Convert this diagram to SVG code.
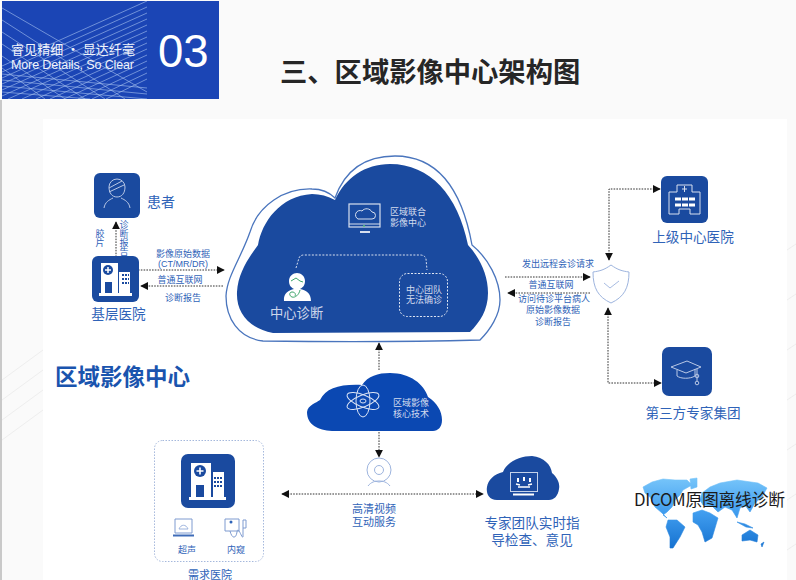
<svg xmlns="http://www.w3.org/2000/svg" width="796" height="580" viewBox="0 0 796 580">
<style>
text{font-family:"Liberation Sans","Noto Sans CJK SC",sans-serif}
.cjk{font-family:"Noto Sans CJK SC",sans-serif}
.lb{fill:#2f63b8;font-size:9px;text-anchor:middle}
.big{fill:#2f63b8;font-size:13.6px;text-anchor:middle}
.med{fill:#2f63b8;font-size:11px;text-anchor:middle}
.inv{fill:#d3dcee;font-size:9px}
.tile{fill:#1a4a9f}
.ic{fill:none;stroke:#b9c8e6;stroke-width:1}
.w{fill:#fff}
.conn{fill:none;stroke:#333;stroke-width:1;stroke-dasharray:1.6 1.2}
.wd{fill:none;stroke:#dfe6f3;stroke-width:1;stroke-dasharray:2 1.5}
.hl{stroke:#a9c3f0;stroke-width:1;opacity:.6;fill:none}
</style>
<defs>
<marker id="ah" viewBox="0 0 10 10" refX="9" refY="5" markerWidth="8" markerHeight="8" markerUnits="userSpaceOnUse" orient="auto-start-reverse"><path d="M0 0L10 5L0 10Z" fill="#111"/></marker>
<linearGradient id="map" gradientUnits="userSpaceOnUse" x1="0" y1="477" x2="0" y2="550"><stop offset="0" stop-color="#78c6fa"/><stop offset=".5" stop-color="#3f9cee"/><stop offset="1" stop-color="#1470cf"/></linearGradient>
<clipPath id="hc"><rect x="2" y="1" width="145" height="98"/></clipPath>
</defs>
<rect width="796" height="580" fill="#fafafa"/>
<rect x="0" y="100" width="2" height="480" fill="#c9c9c9"/>
<g stroke="#eeeeee" stroke-width="1" fill="none"><path d="M787 250L796 244M787 300L796 294M787 350L796 344M787 400L796 394M787 450L796 444M787 500L796 494M787 550L796 544M2 380L43 350M2 400L43 370M2 420L43 390M2 440L43 410"/></g>
<rect x="43" y="119" width="744" height="461" fill="#fff"/>

<g id="header">
<rect x="2" y="1" width="217" height="98" fill="#1b45b5"/>
<g clip-path="url(#hc)">
<path class="hl" d="M2 66L147 1M2 72L147 7M2 78L147 13M2 84L147 19M2 90L147 25M2 96L147 31M8 99L147 37M22 99L147 43M36 99L147 49M50 99L147 55M64 99L147 61M78 99L147 67M92 99L147 73M106 99L147 79"/>
<path class="hl" d="M2 8L147 92M2 20L125 99M2 32L105 99M2 44L85 99M2 56L65 99M2 68L45 99M2 74L147 88M2 80L147 94M2 86L147 99M2 92L90 99"/>
</g>
<text x="11" y="54" fill="#f1f4fb" font-size="13" class="cjk" textLength="124">睿见精细 · 显达纤毫</text>
<text x="11" y="69" fill="#f1f4fb" font-size="12.5" textLength="123">More Details, So Clear</text>
<text x="158" y="67" fill="#fff" font-size="45.500">03</text>
</g>
<text id="title" x="280" y="82" class="cjk" font-size="27.3" font-weight="700" fill="#262626">三、区域影像中心架构图</text>
<text id="region" x="55" y="385" class="cjk" font-size="22.5" font-weight="700" fill="#1a54ae">区域影像中心</text>

<g id="connectors">
<path class="conn" d="M116 257V222" marker-end="url(#ah)"/>
<path class="conn" d="M138 270H224" marker-end="url(#ah)"/>
<path class="conn" d="M223 286H141" marker-end="url(#ah)"/>
<path class="conn" d="M505 277H590" marker-end="url(#ah)"/>
<path class="conn" d="M590 293H508" marker-end="url(#ah)"/>
<path class="conn" d="M609 260V189H660" marker-start="url(#ah)" marker-end="url(#ah)"/>
<path class="conn" d="M608 308V383H661" marker-start="url(#ah)" marker-end="url(#ah)"/>
<path class="conn" d="M379 370V343" marker-end="url(#ah)"/>
<path class="conn" d="M379 432V457" marker-end="url(#ah)"/>
<path class="conn" d="M282 494H483" marker-start="url(#ah)" marker-end="url(#ah)"/>
</g>

<g id="patient">
<rect class="tile" x="94" y="173" width="46" height="45" rx="6"/>
<path class="ic" d="M109 187a8 8 0 0 1 16 0c0 6-3 10-8 10s-8-4-8-10zM109 192l15-7M109 188l13-7M104 208c1-6 5-8 9-10M130 208c-1-6-5-8-9-10"/>
<text x="147" y="207" class="big cjk" style="text-anchor:start;font-size:14px">患者</text>
</g>
<g id="primary-hospital">
<rect class="tile" x="92" y="256" width="47" height="46" rx="6"/>
<path class="w" d="M101 263h17v30h-17zM119 272h11v21h-11zM99 293h33v3h-33z"/>
<circle cx="108" cy="270" r="5" fill="#1a4a9f"/><path d="M108 267v6M105 270h6" stroke="#fff" stroke-width="1.5"/>
<rect x="105" y="282" width="7" height="11" fill="#1a4a9f"/>
<path d="M122 275h7M122 279h7M122 283h7" stroke="#1a4a9f" stroke-width="2" stroke-dasharray="2 1"/>
<text x="118.500" y="319" class="big cjk">基层医院</text>
</g>
<g id="edge-labels" class="cjk">
<text x="100" y="229" class="lb cjk" style="writing-mode:vertical-rl;text-anchor:start">胶片</text>
<text x="124" y="220" class="lb cjk" style="writing-mode:vertical-rl;text-anchor:start">诊断报告</text>
<text x="183" y="257" class="lb cjk">影像原始数据</text>
<text x="183" y="267" class="lb">(CT/MR/DR)</text>
<text x="180" y="283" class="lb cjk">普通互联网</text>
<text x="183" y="301" class="lb cjk">诊断报告</text>
<text x="558" y="267" class="lb cjk">发出远程会诊请求</text>
<text x="551" y="288" class="lb cjk">普通互联网</text>
<text x="554" y="302" class="lb cjk">访问待诊平台病人</text>
<text x="553" y="313" class="lb cjk">原始影像数据</text>
<text x="553" y="325" class="lb cjk">诊断报告</text>
</g>

<g id="central-cloud">
<path d="M263 341C238 338 226 318 226 296C227 276 241 258 250 232C258 205 285 188 312 189C322 189 330 193 335 198C345 170 365 156 395 156C438 156 462 190 472 245C488 258 500 280 500 300C500 315 490 330 480 340C410 342 330 342 263 341Z" fill="#fff" stroke="#4a75bd" stroke-width="1.3"/>
<path d="M273 333C248 328 236 312 237 292C238 272 250 256 258 245C262 222 280 196 312 194C320 194 328 196 335 200C345 178 365 164 390 164C430 164 458 195 468 245C480 258 488 275 488 293C488 310 480 322 470 332Z" fill="#1a4a9f"/>
<g class="ic" style="stroke:#d7dfef">
<rect x="349" y="204" width="31" height="23" stroke-width="1.2"/>
<path d="M358 219h14a3.500 3.500 0 0 0 0-7a6 6 0 0 0-10-1a4 4 0 0 0-4 8zM349 224h31"/>
<path d="M360 232h10" stroke-width="2"/>
</g>
<circle cx="364" cy="226" r="1" fill="#57c07a"/>
<text x="390" y="215" class="inv cjk">区域联合</text>
<text x="390" y="226" class="inv cjk">影像中心</text>
<path d="M296 268L299 258Q300 255 304 255H420Q425 255 426 259L427 270" fill="none" stroke="#d7dfef" stroke-dasharray="2 1.5"/>
<rect x="399.500" y="273.500" width="48" height="43" rx="8" class="wd"/>
<text x="424" y="293" class="inv cjk" text-anchor="middle">中心团队</text>
<text x="424" y="303" class="inv cjk" text-anchor="middle">无法确诊</text>
<path class="w" d="M284 301c-1-8 5-11 10-12c-4-2-5-5-5-8c0-5 4-8 8-8s8 3 8 8c0 3-1 6-5 8c6 1 11 4 11 12z"/>
<path d="M291 281l5-3 4 3 3 1M300 290c-1 5-5 8-8 7c-3-1-3-5 0-5c3 0 4 2 3 4" fill="none" stroke="#3da56a" stroke-width="1"/>
<text x="270" y="318" class="cjk" fill="#cdd6ea" font-size="13.300">中心诊断</text>
</g>

<g id="shield">
<path d="M611 265C604 270 600 271 593 272C593 288 598 297 611 303C624 297 629 288 629 272C622 271 618 270 611 265Z" fill="#fff" stroke="#9db4de"/>
<path d="M604 283l6 5 9-7" fill="none" stroke="#a8bce2"/>
</g>
<g id="upper-hospital">
<rect class="tile" x="661" y="176" width="47" height="47" rx="6"/>
<path class="ic" d="M669 214v-22h8v-7h15v7h8v22h-10v-5h-11v5zM684.500 186v6M682 189h5" style="stroke:#d7dfef"/>
<path d="M675 199h6M682 199h6M689 199h6M675 205h6M682 205h6M689 205h6" stroke="#fff" stroke-width="3"/>
<text x="693" y="242" class="big cjk">上级中心医院</text>
</g>
<g id="expert-group">
<rect class="tile" x="662" y="347" width="50" height="49" rx="7"/>
<path class="ic" d="M671 367l16-6 14 6-15 6zM677 370v6c4 3 13 3 18 0v-7M697 369v12"/>
<circle cx="697" cy="376" r="1.800" class="ic"/><circle cx="697" cy="383" r="1.800" class="ic"/>
<text x="693" y="418" class="big cjk">第三方专家集团</text>
</g>

<g id="core-tech">
<path d="M332 431C318 430 307 425 307 412C308 405 316 403 320 400C326 388 340 384 362 385C368 376 378 373 390 373C410 373 424 384 428 397C437 403 442 411 442 420C442 427 438 431 433 431Z" fill="#0b48b2"/>
<g fill="none" stroke="#d9e3f5"><ellipse cx="363" cy="401" rx="17" ry="6" transform="rotate(22 363 401)"/><ellipse cx="363" cy="401" rx="17" ry="6" transform="rotate(-22 363 401)"/><ellipse cx="363" cy="401" rx="7" ry="16"/><ellipse cx="363" cy="401" rx="3" ry="2"/></g>
<text x="393" y="406" class="inv cjk">区域影像</text>
<text x="393" y="417" class="inv cjk">核心技术</text>
</g>
<g id="video">
<circle cx="379" cy="470" r="12" fill="#fff" stroke="#9db4de"/>
<circle cx="379" cy="470" r="4.500" fill="none" stroke="#9db4de"/>
<path d="M368 486c3-4 7-5 11-5s8 1 11 5" fill="none" stroke="#9db4de"/>
<text x="374" y="513" class="med cjk">高清视频</text>
<text x="374" y="526" class="med cjk">互动服务</text>
</g>
<g id="demand-hospital">
<rect x="154.500" y="440.500" width="109" height="121" rx="8" fill="none" stroke="#a5b8dc" stroke-dasharray="1.500 1.500"/>
<rect class="tile" x="181" y="454" width="54" height="54" rx="7"/>
<path class="w" d="M191 463h20v34h-20zM213 472h11v25h-11zM189 497h37v3h-37z"/>
<circle cx="200" cy="471" r="6" fill="#1a4a9f"/><path d="M200 467.500v7M196.500 471h7" stroke="#fff" stroke-width="1.600"/>
<rect x="196" y="485" width="8" height="12" fill="#1a4a9f"/>
<path d="M214 478h8M214 482h8M214 486h8" stroke="#1a4a9f" stroke-width="2" stroke-dasharray="2 1"/>
<path d="M175 519h17v14h-17z" fill="#fff" stroke="#7e9bd0"/><path d="M173 535.500h21" stroke="#3f6cb8" stroke-width="2"/>
<path d="M179 529c2-5 7-5 9 0z" fill="none" stroke="#9db4de"/>
<path d="M225 519h14v12h-14z" fill="#fff" stroke="#7e9bd0"/><circle cx="231" cy="522" r="1.500" fill="#2f63b8"/>
<path d="M230 531c2 8 6 8 7 1s5 7 6 5v-17h3v8h-3" fill="none" stroke="#7e9bd0"/>
<text x="187" y="553" class="lb cjk">超声</text>
<text x="236" y="553" class="lb cjk">内窥</text>
<text x="210" y="579" class="med cjk">需求医院</text>
</g>
<g id="expert-team">
<path d="M497 500C488 500 486 492 487 487C488 480 494 474 503 472C507 462 520 456 532 456C544 457 551 465 552 473C558 478 560 484 559 489C558 496 554 500 549 500Z" fill="#1a4a9f"/>
<rect x="510.500" y="472.500" width="27" height="19" fill="none" stroke="#c4d2ea"/>
<path d="M513 494.500h21" stroke="#fff" stroke-width="2"/>
<path d="M518 478v4M524 477v4M530 478v4" stroke="#fff" stroke-width="2"/>
<path d="M516 484l4 1M532 484l-4 1M518 487h12" stroke="#fff" stroke-width="1.500"/>
<text x="532" y="528" class="big cjk">专家团队实时指</text>
<text x="532" y="545" class="big cjk">导检查、意见</text>
</g>
<g id="world-map">
<path fill="url(#map)" stroke="url(#map)" stroke-width=".6" stroke-linejoin="round" d="M652 482L663 479L675 480L687 480L692 485L683 490L680 495L675 500L672 507L667 512L663 515L667 518L662 513L655 507L650 497L645 493L643 487ZM690 479L697 478L697 487L691 489ZM668 520L677 520L685 527L680 537L673 548L670 548L670 537L666 527ZM693 513L702 510L710 513L718 518L715 528L712 538L705 542L702 532L698 525L693 522ZM702 493L710 487L720 483L737 480L758 483L767 488L762 497L755 503L750 512L745 505L740 508L737 518L732 510L725 507L718 512L712 506L703 505L700 500ZM737 522L745 524L753 528L746 527ZM742 535L750 530L758 535L757 542L750 540L742 541ZM761 544L764 542L762 547Z"/>
</g>
<text id="dicom" x="634" y="506" class="cjk" font-size="16.800" fill="#1a1a1a" textLength="151">DICOM原图离线诊断</text>
</svg>
